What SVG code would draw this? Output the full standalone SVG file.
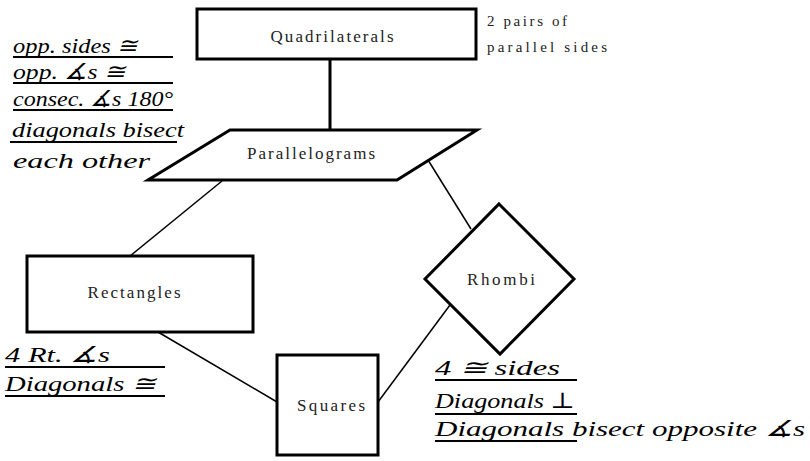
<svg xmlns="http://www.w3.org/2000/svg" width="810" height="461" viewBox="0 0 810 461">
<style>
.shape{fill:#fff;stroke:#000;stroke-width:3;stroke-linejoin:miter}
.conn{stroke:#000;stroke-width:1.5;fill:none}
.lbl{font-family:'Liberation Serif','Times New Roman','DejaVu Serif',serif;font-size:17px;fill:#222;text-anchor:middle}
.note{font-family:'Liberation Serif','Times New Roman','DejaVu Serif',serif;font-size:15px;fill:#222}
.hand{font-family:'Liberation Serif','Times New Roman','DejaVu Serif',serif;font-style:italic;font-size:22px;fill:#000}
.ul{stroke:#000;stroke-width:2}
</style>
<rect width="810" height="461" fill="#fff"/>
<g id="connectors">
<line class="conn" x1="330" y1="59" x2="330" y2="130" style="stroke-width:3"/>
<line class="conn" x1="222" y1="181" x2="130" y2="256"/>
<line class="conn" x1="158" y1="332" x2="277" y2="402"/>
<line class="conn" x1="378" y1="402" x2="450" y2="305"/>
<line class="conn" x1="428" y1="160" x2="471" y2="229"/>
</g>
<g id="quadrilaterals">
<rect class="shape" x="197" y="9" width="279" height="50"/>
<text class="lbl" x="332" y="42" textLength="123" lengthAdjust="spacing">Quadrilaterals</text>
</g>
<g id="quad-note">
<text class="note" x="487" y="26" textLength="80" lengthAdjust="spacing">2 pairs of</text>
<text class="note" x="487" y="52" textLength="120" lengthAdjust="spacing">parallel sides</text>
</g>
<g id="parallelograms">
<polygon class="shape" points="230,130 477,130 397,180 148,180"/>
<text class="lbl" x="311" y="159" textLength="128" lengthAdjust="spacing">Parallelograms</text>
</g>
<g id="rectangles">
<rect class="shape" x="27" y="256" width="226" height="76"/>
<text class="lbl" x="134" y="298" textLength="93" lengthAdjust="spacing">Rectangles</text>
</g>
<g id="squares">
<rect class="shape" x="277" y="355" width="101" height="100"/>
<text class="lbl" x="331" y="411" textLength="68" lengthAdjust="spacing">Squares</text>
</g>
<g id="rhombi">
<polygon class="shape" points="499,204 574,279 500,354 425,279"/>
<text class="lbl" x="501" y="285" textLength="68" lengthAdjust="spacing">Rhombi</text>
</g>
<g id="parallelogram-notes">
<text class="hand" x="13" y="53" textLength="124" lengthAdjust="spacingAndGlyphs">opp. sides ≅</text>
<line class="ul" x1="13" y1="57" x2="173" y2="57"/>
<text class="hand" x="13" y="79" textLength="112" lengthAdjust="spacingAndGlyphs">opp. ∡s ≅</text>
<line class="ul" x1="13" y1="83" x2="173" y2="83"/>
<text class="hand" x="13" y="106" textLength="160" lengthAdjust="spacingAndGlyphs">consec. ∡s 180°</text>
<line class="ul" x1="13" y1="110" x2="173" y2="110"/>
<text class="hand" x="12" y="137" textLength="172" lengthAdjust="spacingAndGlyphs">diagonals bisect</text>
<line class="ul" x1="10" y1="142" x2="177" y2="142"/>
<text class="hand" x="13" y="168" textLength="137" lengthAdjust="spacingAndGlyphs">each other</text>
</g>
<g id="rectangle-notes">
<text class="hand" x="5" y="362" textLength="105" lengthAdjust="spacingAndGlyphs">4 Rt. ∡s</text>
<line class="ul" x1="5" y1="367" x2="165" y2="367"/>
<text class="hand" x="5" y="391" textLength="150" lengthAdjust="spacingAndGlyphs">Diagonals ≅</text>
<line class="ul" x1="5" y1="396" x2="165" y2="396"/>
</g>
<g id="rhombi-notes">
<text class="hand" x="435" y="375" textLength="125" lengthAdjust="spacingAndGlyphs">4 ≅ sides</text>
<line class="ul" x1="435" y1="380" x2="577" y2="380"/>
<text class="hand" x="435" y="408" textLength="140" lengthAdjust="spacingAndGlyphs">Diagonals ⊥</text>
<line class="ul" x1="435" y1="414" x2="577" y2="414"/>
<text class="hand" x="435" y="436" textLength="370" lengthAdjust="spacingAndGlyphs">Diagonals bisect opposite ∡s</text>
<line class="ul" x1="435" y1="441" x2="577" y2="441"/>
</g>
</svg>
